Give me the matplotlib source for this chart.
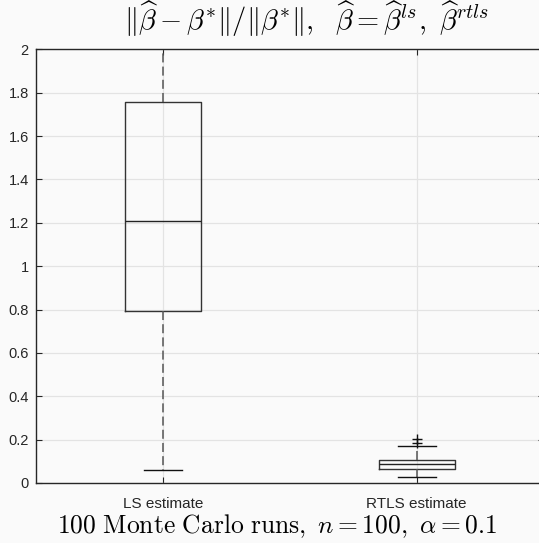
import matplotlib
matplotlib.use("Agg")
import matplotlib.pyplot as plt

# ---- data ----
categories = ["LS estimate", "RTLS estimate"]
q1 = [0.793, 0.066]
med = [1.206, 0.088]
q3 = [1.757, 0.1075]
whislo = [0.060, 0.028]
whishi = [2.60, 0.171]
fliers = [[], [0.183, 0.201]]
yticks = [0, 0.2, 0.4, 0.6, 0.8, 1, 1.2, 1.4, 1.6, 1.8, 2]
yticklabels = ["0", "0.2", "0.4", "0.6", "0.8", "1", "1.2", "1.4", "1.6", "1.8", "2"]

plt.rcParams['mathtext.fontset'] = 'cm'
plt.rcParams['lines.scale_dashes'] = False
plt.rcParams['font.family'] = ['Liberation Sans', 'DejaVu Sans']

bg = '#fafafa'
fig = plt.figure(figsize=(5.39, 5.43), dpi=100, facecolor=bg)
ax = fig.add_axes([35.7/539, 1-483/543, 508/539, (483-49.3)/543])
ax.set_facecolor(bg)

stats = []
for i in range(len(categories)):
    stats.append(dict(q1=q1[i], med=med[i], q3=q3[i], whislo=whislo[i],
                      whishi=whishi[i], fliers=fliers[i], label=categories[i]))

ax.bxp(stats, positions=[1, 2], widths=0.3, showfliers=True,
       boxprops=dict(color='#333333', linewidth=1.0),
       medianprops=dict(color='#222222', linewidth=1.0),
       whiskerprops=dict(color='#555555', linewidth=1.1, linestyle=(0, (6.5, 3.0))),
       capprops=dict(color='#111111', linewidth=1.0),
       capwidths=0.15,
       flierprops=dict(marker='+', markeredgecolor='#111111', markersize=7, markeredgewidth=1.0, linestyle='none'))

ax.set_xlim(0.5, 2.5)
ax.set_ylim(0, 2)
ax.set_yticks(yticks)
ax.set_yticklabels(yticklabels)
ax.set_xticks([1, 2])
ax.set_xticklabels(categories)
ax.grid(True, color='#e3e3e3', linewidth=0.9)
ax.set_axisbelow(True)
ax.tick_params(direction='in', top=True, right=True, length=4, width=0.8,
               colors='#262626')
ax.tick_params(axis='y', labelsize=10.5, pad=5)
ax.tick_params(axis='x', labelsize=11, pad=10)
for s in ax.spines.values():
    s.set_color('#262626')
    s.set_linewidth(1.0)

fig.text(307/539, 1-18.5/543, r"$\|\widehat{\beta}-\beta^{*}\|/\|\beta^{*}\|,\ \ \widehat{\beta}=\widehat{\beta}^{ls},\ \widehat{\beta}^{rtls}$",
         ha='center', va='center', fontsize=20.5)
fig.text(277/539, 1-526/543, r"$\mathrm{100\ Monte\ Carlo\ runs},\ n=100,\ \alpha=0.1$",
         ha='center', va='center', fontsize=18.4)

fig.savefig("out.png", dpi=100, facecolor=bg)
